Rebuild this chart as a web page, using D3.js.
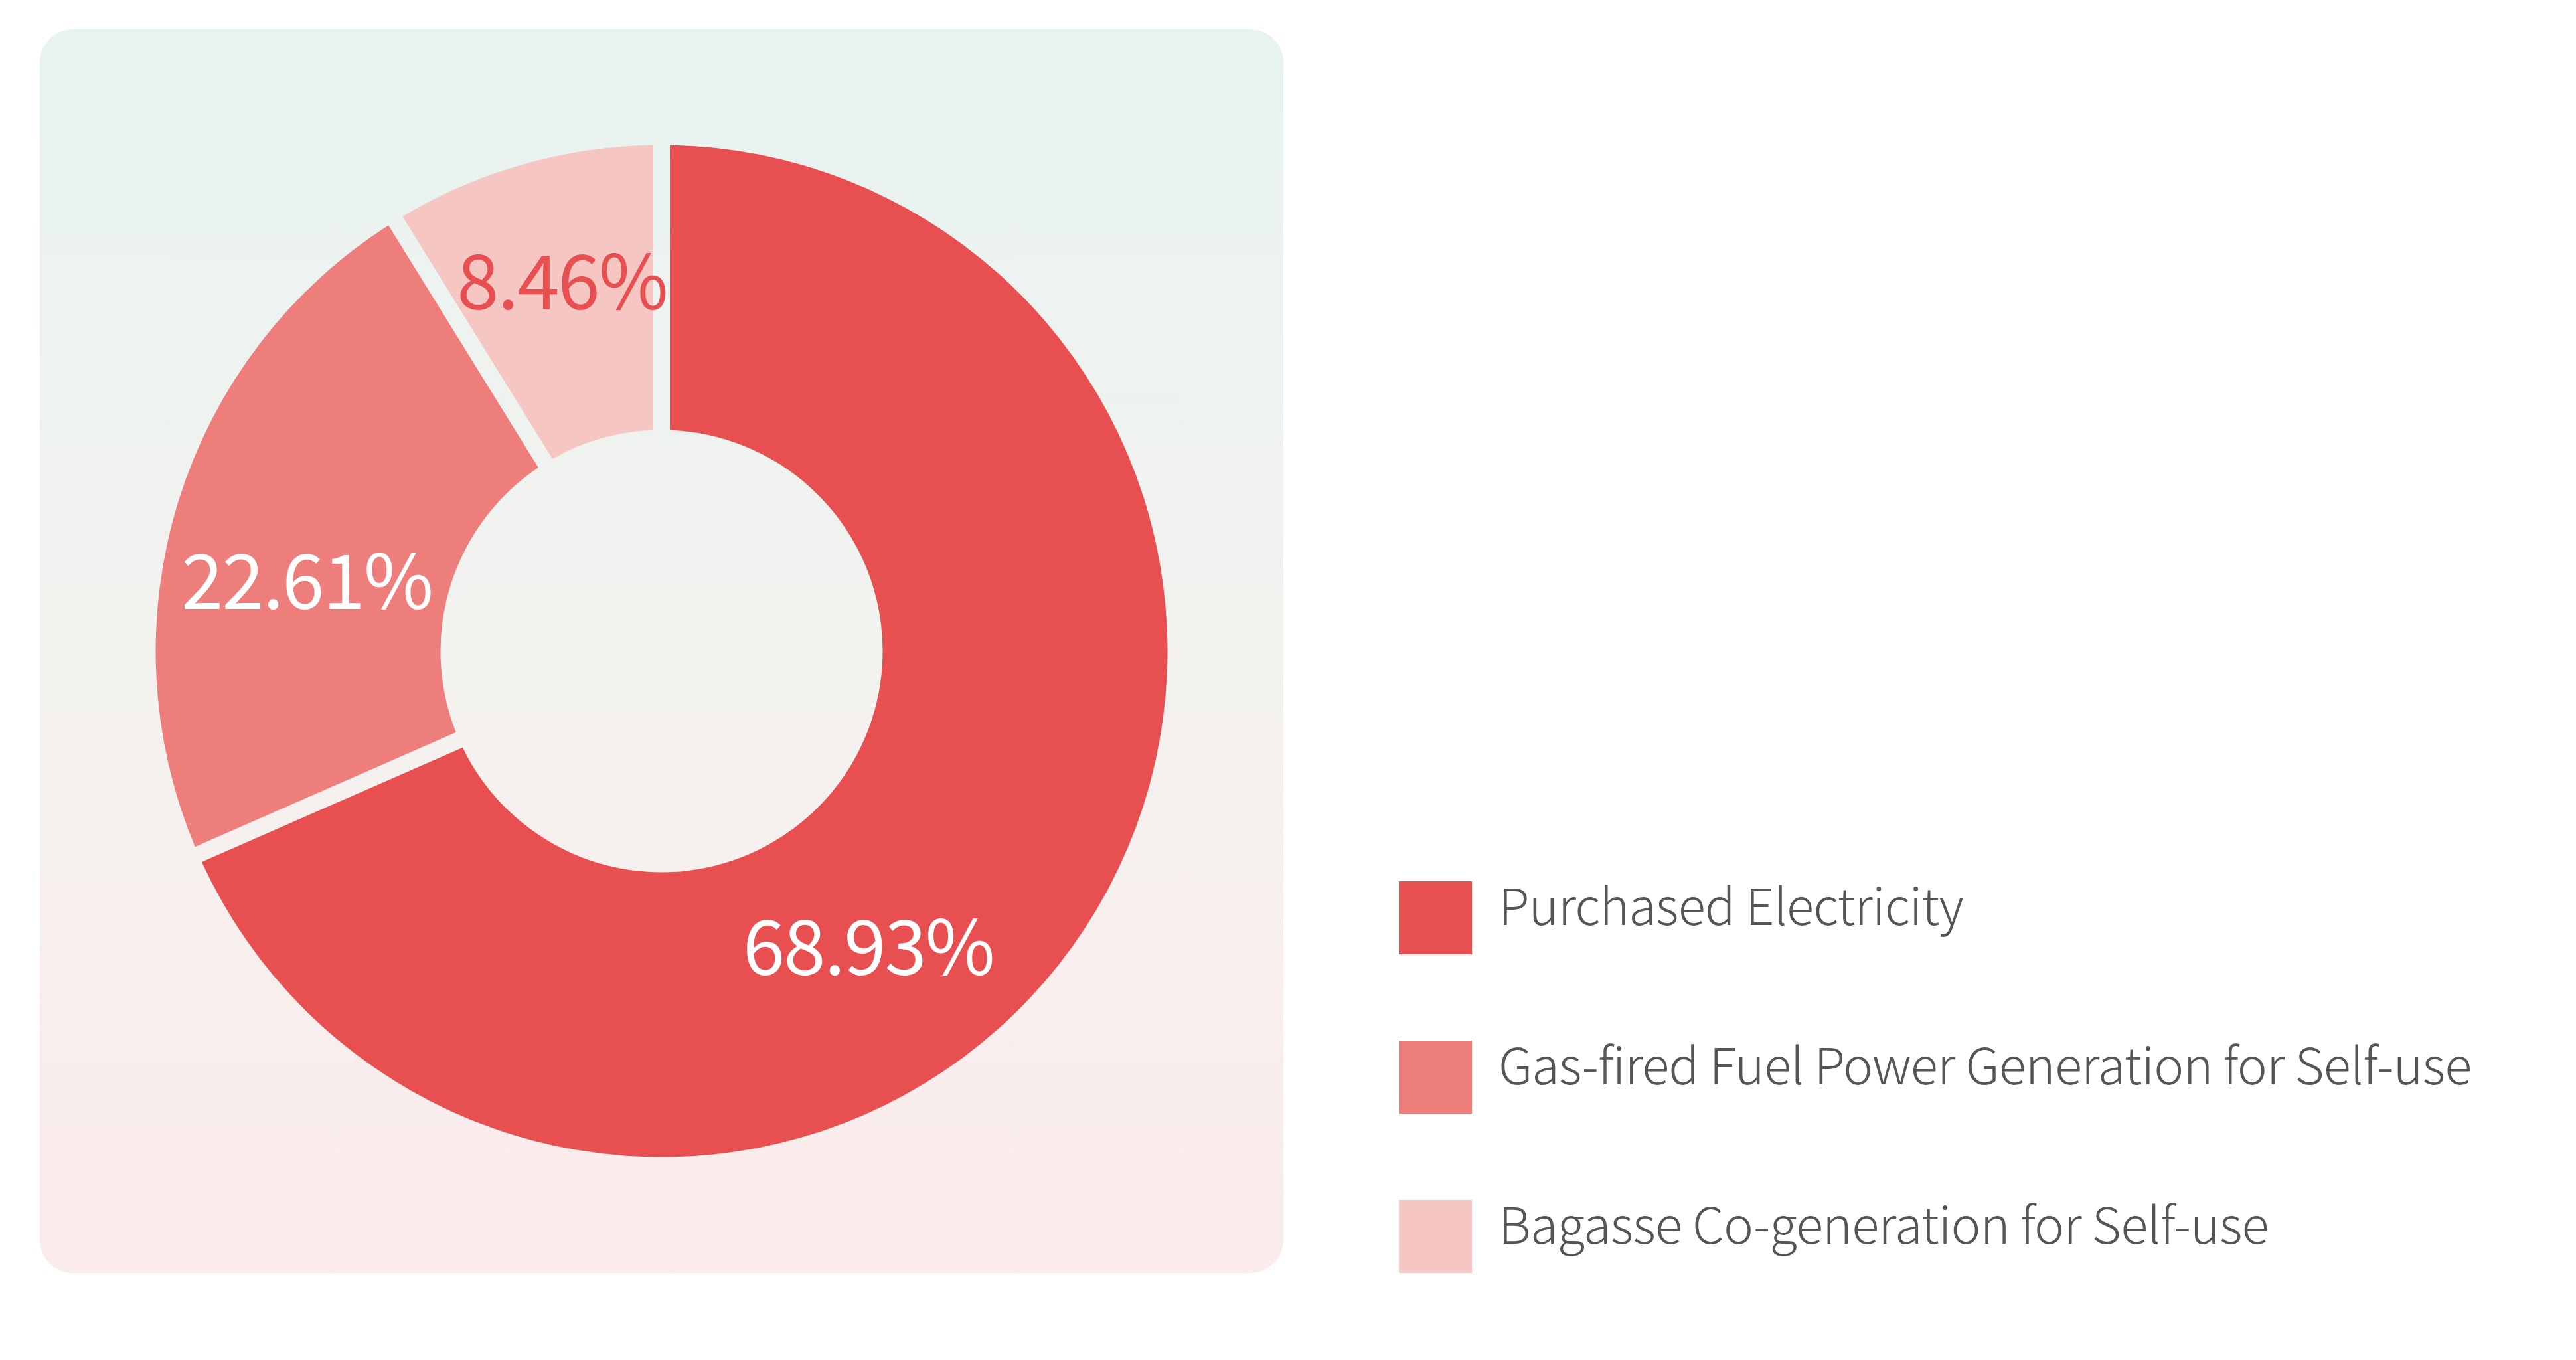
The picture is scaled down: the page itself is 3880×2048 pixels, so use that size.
<!DOCTYPE html>
<html>
<head>
<meta charset="utf-8">
<script src="https://cdn.jsdelivr.net/npm/d3@7"></script>
<style>
  html, body { margin: 0; padding: 0; background: #ffffff; }
  svg { display: block; }
</style>
</head>
<body>
<svg id="chart" width="3880" height="2048"></svg>
<script>
// ---- data ----
const categories = [
  "Purchased Electricity",
  "Gas-fired Fuel Power Generation for Self-use",
  "Bagasse Co-generation for Self-use"
];
const shares = [68.93, 22.61, 8.46];
const shareLabels = ["68.93%", "22.61%", "8.46%"];

// ---- style / layout ----
const sliceColors = ["#E84F50", "#EE7E7C", "#F6C6C3"];
const labelColors = ["#ffffff", "#ffffff", "#E84F50"];
const labelAngleFrac = [0.587, 0.423, 0.5]; // where along each slice the label sits
const labelRadiusExtra = [0, 0, 30];
const labelDx = [-6, 3, 8];
const FONT = "'Noto Sans CJK SC', 'Source Sans Pro', 'Noto Sans', sans-serif";

const W = 3880, H = 2048;
const card = { x: 60, y: 44, w: 1873, h: 1873, r: 50 };
const cx = card.x + card.w / 2, cy = card.y + card.h / 2;
const outerR = 762, innerR = 333;
const gapPx = 25;
const padR = Math.sqrt(outerR * outerR + innerR * innerR);

const svg = d3.select("#chart");
const defs = svg.append("defs");
const grad = defs.append("linearGradient")
  .attr("id", "cardGrad").attr("x1", 0).attr("y1", 0).attr("x2", 0).attr("y2", 1);
grad.append("stop").attr("offset", "0%").attr("stop-color", "#E7F3F0");
grad.append("stop").attr("offset", "50%").attr("stop-color", "#F3F2EF");
grad.append("stop").attr("offset", "100%").attr("stop-color", "#FBEBEB");

svg.append("rect")
  .attr("x", card.x).attr("y", card.y)
  .attr("width", card.w).attr("height", card.h)
  .attr("rx", card.r).attr("ry", card.r)
  .attr("fill", "url(#cardGrad)");

const data = categories.map((c, i) => ({ category: c, value: shares[i], label: shareLabels[i], i }));

const pie = d3.pie()
  .sort(null)
  .value(d => d.value)
  .startAngle(0)
  .endAngle(2 * Math.PI)
  .padAngle(gapPx / padR);

const arc = d3.arc()
  .innerRadius(innerR)
  .outerRadius(outerR)
  .padRadius(padR);

const arcs = pie(data);

const g = svg.append("g").attr("transform", `translate(${cx},${cy})`);

g.selectAll("path.slice")
  .data(arcs)
  .join("path")
  .attr("class", "slice")
  .attr("d", arc)
  .attr("fill", d => sliceColors[d.data.i]);

const labelR = (innerR + outerR) / 2;
g.selectAll("text.pct")
  .data(arcs)
  .join("text")
  .attr("class", "pct")
  .attr("transform", d => {
    const a = d.startAngle + (d.endAngle - d.startAngle) * labelAngleFrac[d.data.i];
    const r = labelR + labelRadiusExtra[d.data.i];
    return `translate(${Math.sin(a) * r},${-Math.cos(a) * r})`;
  })
  .attr("text-anchor", "middle")
  .attr("dx", d => labelDx[d.data.i])
  .attr("dy", "0.36em")
  .attr("font-family", FONT)
  .attr("font-size", 114)
  .attr("letter-spacing", -2)
  .attr("fill", d => labelColors[d.data.i])
  .text(d => d.data.label);

// ---- legend ----
const rowY = d3.scalePoint().domain(categories).range([1327, 1807]);
const sw = 110;
const legend = svg.append("g");
const rows = legend.selectAll("g.row")
  .data(data)
  .join("g")
  .attr("class", "row")
  .attr("transform", d => `translate(2107,${rowY(d.category)})`);

rows.append("rect")
  .attr("width", sw).attr("height", sw)
  .attr("fill", d => sliceColors[d.i]);

rows.append("text")
  .attr("x", 150)
  .attr("y", 66)
  .attr("font-family", FONT)
  .attr("font-weight", 300)
  .attr("font-size", 76)
  .attr("letter-spacing", -0.8)
  .attr("fill", "#555555")
  .text(d => d.category);
</script>
</body>
</html>
